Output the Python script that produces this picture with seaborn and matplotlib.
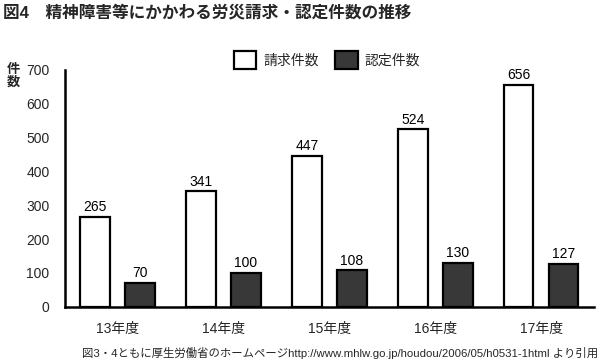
import matplotlib
matplotlib.use("Agg")
import matplotlib.pyplot as plt
import seaborn as sns
import pandas as pd
from matplotlib.patches import Patch

years = ["13年度", "14年度", "15年度", "16年度", "17年度"]
claims = [265, 341, 447, 524, 656]
approved = [70, 100, 108, 130, 127]
series = ["請求件数", "認定件数"]
yticks = [0, 100, 200, 300, 400, 500, 600, 700]

sns.set_style("white")
plt.rcParams['font.family'] = ['Liberation Sans', 'Noto Sans CJK JP']

df = pd.DataFrame({
    "year": years * 2,
    "series": [series[0]] * len(years) + [series[1]] * len(years),
    "value": claims + approved,
})

fig = plt.figure(figsize=(6, 3.64), dpi=100)
ax = fig.add_axes([0.108, 0.157, 0.882, 0.651])

palette = {series[0]: "#ffffff", series[1]: "#383838"}
sns.barplot(data=df, x="year", y="value", hue="series", order=years,
            hue_order=series, palette=palette, width=0.85, gap=0.34,
            edgecolor="black", linewidth=1.6, legend=False, ax=ax)

for cont in ax.containers:
    ax.bar_label(cont, padding=2, fontsize=10, color="black")

ax.set_xlim(-0.5, 4.5)
ax.set_ylim(0, 700)
ax.set_yticks(yticks)
ax.set_yticklabels([str(v) for v in yticks], fontsize=10)
ax.set_xticks(range(len(years)))
ax.set_xticklabels(years, fontsize=10)
ax.set_xticks([0.5, 1.5, 2.5, 3.5, 4.5], minor=True)
ax.tick_params(axis="x", which="major", length=0, pad=11)
ax.tick_params(axis="x", which="minor", direction="in", length=5, width=1.5, color="black")
ax.tick_params(axis="y", direction="in", length=5, width=1.5, color="black", pad=11)
ax.set_xlabel("")
ax.set_ylabel("")
for s in ["top", "right"]:
    ax.spines[s].set_visible(False)
for s in ["left", "bottom"]:
    ax.spines[s].set_linewidth(1.8)
    ax.spines[s].set_color("black")

handles = [Patch(facecolor=palette[s], edgecolor="black", linewidth=1.6) for s in series]
fig.legend(handles, series, loc="center", bbox_to_anchor=(0.545, 0.835), ncol=2,
           frameon=False, fontsize=10, handlelength=1.6, handleheight=1.6,
           columnspacing=1.2, handletextpad=0.5)

fig.text(0.005, 0.965, "図4　精神障害等にかかわる労災請求・認定件数の推移",
         fontsize=12, fontweight="bold", va="center", ha="left")
fig.text(0.023, 0.79, "件\n数", fontsize=9.5, fontweight="bold", va="center", ha="center",
         linespacing=1.0)
fig.text(0.997, 0.03, "図3・4ともに厚生労働省のホームページhttp://www.mhlw.go.jp/houdou/2006/05/h0531-1html より引用",
         fontsize=8.2, va="center", ha="right")

fig.savefig("out.png", dpi=100)
